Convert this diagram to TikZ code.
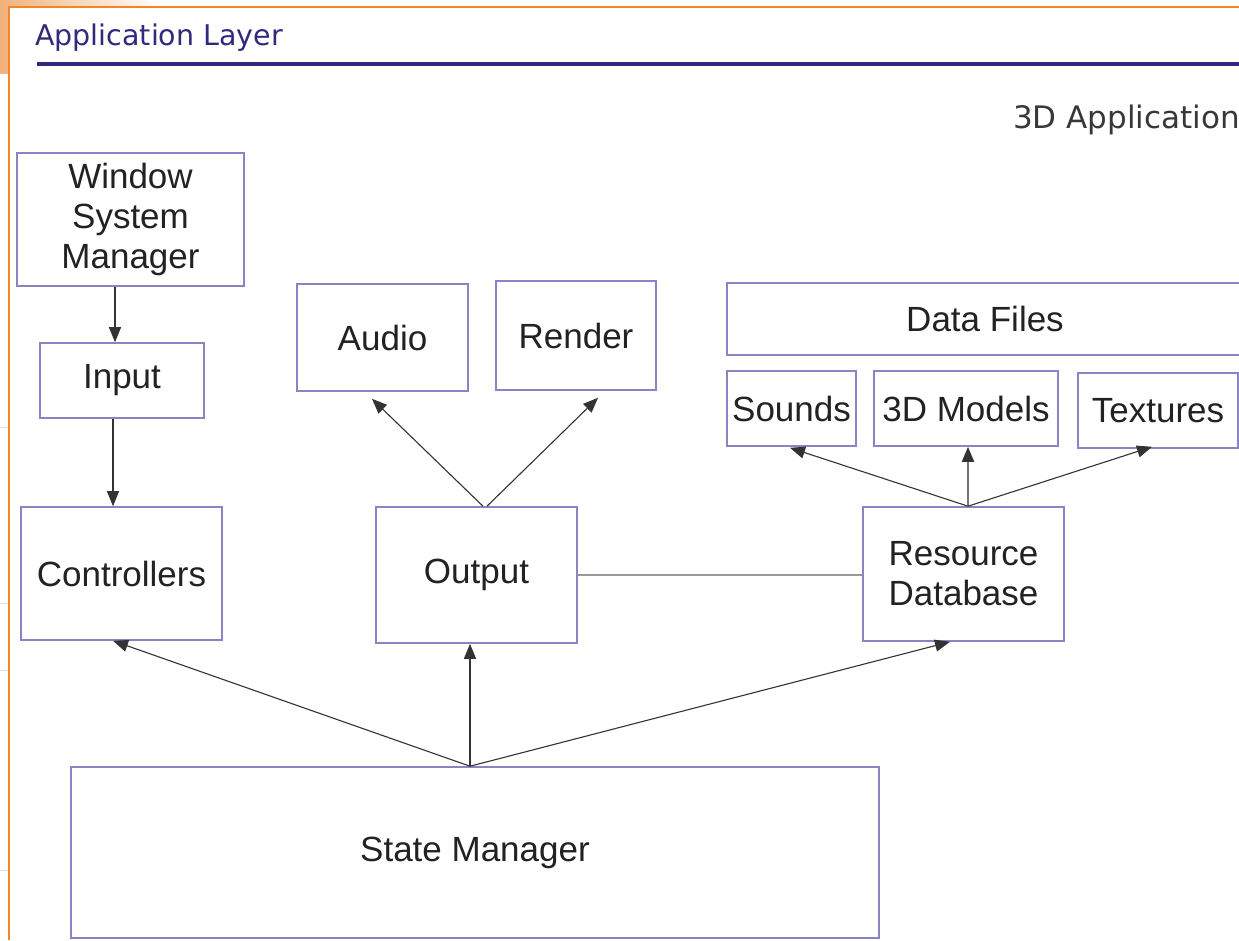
\documentclass[tikz,border=0pt]{standalone}
\usepackage{fontspec}
\setmainfont{Liberation Sans}
\newfontfamily\titlefont{DejaVu Sans}
\usetikzlibrary{arrows.meta}

\definecolor{boxline}{HTML}{8A84C2}
\definecolor{navy}{HTML}{2E2A7C}
\definecolor{slideframe}{HTML}{F58426}
\definecolor{framefade}{HTML}{F2B27C}
\definecolor{ink}{HTML}{222222}
\definecolor{arrowgray}{HTML}{333333}

\begin{document}
\begin{tikzpicture}[x=1pt, y=-1pt,
  box/.style={draw=boxline, line width=1.6pt, fill=white, align=center,
              inner sep=0pt, text=ink, font=\fontsize{35}{40}\selectfont},
  arr/.style={-{Triangle[length=15pt,width=12pt,color=arrowgray]},
              draw=arrowgray, line width=1.1pt},
  link/.style={draw=gray!80, line width=2pt}]

  % Ramka slajdu
  \useasboundingbox (0,0) rectangle (1239,940);
  \shade[left color=framefade, right color=white] (0,0) rectangle (160,73);
  \fill[white] (9,7) rectangle (1239,940);
  \draw[slideframe, line width=1.5pt] (1239,7) -- (9,7) -- (9,940);
  \foreach \yy in {427,603,670,870}
    \draw[gray!25, line width=0.8pt] (0,\yy) -- (8,\yy);

  % Naglowek
  \node[anchor=base west, inner sep=0pt, text=navy,
        font=\titlefont\fontsize{28.5}{32}\selectfont] (title) at (35,45)
    {Application Layer};
  \draw[navy, line width=3.5pt] (37,64) -- (1239,64);
  \node[anchor=base east, inner sep=0pt, text=ink!90,
        font=\titlefont\fontsize{31}{35}\selectfont] (app) at (1240,128)
    {3D Application};

  % Wejscie
  \node[box, minimum width=227pt, minimum height=133pt] (wsm) at (130.5,219.5)
    {Window\\System\\Manager};
  \node[box, minimum width=164pt, minimum height=75pt] (input) at (122,380.5)
    {Input};
  \node[box, minimum width=201pt, minimum height=133pt] (ctrl) at (121.5,573.5)
    {Controllers};

  % Wyjscie
  \node[box, minimum width=171pt, minimum height=107pt] (audio) at (382.5,337.5)
    {Audio};
  \node[box, minimum width=160pt, minimum height=109pt] (render) at (576,335.5)
    {Render};
  \node[box, minimum width=201pt, minimum height=136pt] (output) at (476.5,575)
    {Output};

  % Zasoby
  \node[box, minimum width=516pt, minimum height=72pt] (data) at (985,319)
    {Data Files};
  \node[box, minimum width=129pt, minimum height=75pt] (sounds) at (791.5,408.5)
    {Sounds};
  \node[box, minimum width=184pt, minimum height=75pt] (models) at (966,408.5)
    {3D Models};
  \node[box, minimum width=160pt, minimum height=75pt] (textures) at (1158,410.5)
    {Textures};
  \node[box, minimum width=201pt, minimum height=134pt] (resdb) at (963.5,574)
    {Resource\\Database};

  % Stan
  \node[box, minimum width=808pt, minimum height=171pt] (state) at (475,852.5)
    {State Manager};

  % Strzalki
  \draw[arr] ([xshift=-15.5pt]wsm.south) -- ([xshift=-7pt]input.north);
  \draw[arr] ([xshift=-9pt]input.south) -- ([xshift=-8.5pt]ctrl.north);
  \draw[arr] ([xshift=6.5pt]output.north) -- ([xshift=-10.5pt,yshift=-7pt]audio.south);
  \draw[arr] ([xshift=10.5pt]output.north) -- ([xshift=22pt,yshift=-7pt]render.south);
  \draw[link] (output.east) -- (output.east -| resdb.west);
  \draw[arr] ([xshift=4.5pt]resdb.north) -- ([xshift=-1.5pt,yshift=-1pt]sounds.south);
  \draw[arr, draw=gray!90!black, line width=2pt] ([xshift=4.5pt]resdb.north) -- ([xshift=2pt]models.south);
  \draw[arr] ([xshift=4.5pt]resdb.north) -- ([xshift=-6pt,yshift=2pt]textures.south);
  \draw[arr] ([xshift=-5pt]state.north) -- ([xshift=-8.5pt]ctrl.south);
  \draw[arr] ([xshift=-5pt]state.north) -- ([xshift=-6.5pt]output.south);
  \draw[arr] ([xshift=-5pt]state.north) -- ([xshift=-13.5pt]resdb.south);
\end{tikzpicture}
\end{document}
